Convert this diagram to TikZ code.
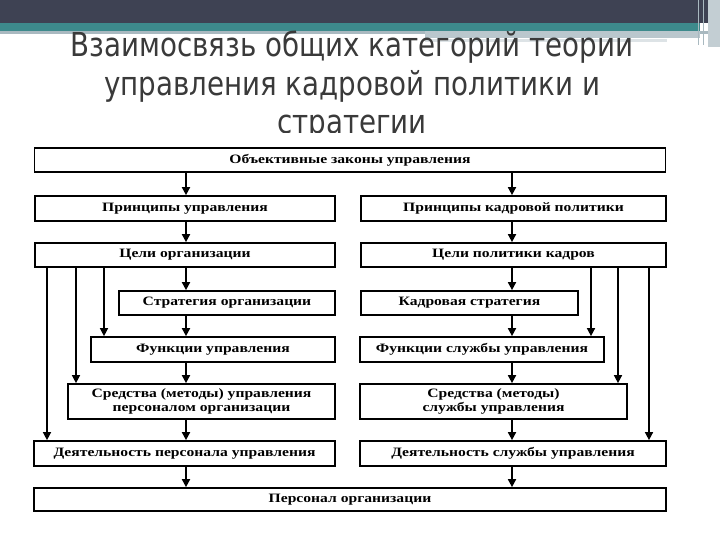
\documentclass[tikz,border=0pt]{standalone}
\usepackage{fontspec}
\usepackage{tikz}
\usetikzlibrary{arrows.meta}
\newfontfamily\titlefont[FakeStretch=0.84]{DejaVu Sans}
\newfontfamily\boxfont[FakeStretch=1.22]{Liberation Serif}
\definecolor{band}{HTML}{3E4253}
\definecolor{teal}{HTML}{3D8A8C}
\definecolor{haze}{HTML}{A9B9C0}
\definecolor{ink}{HTML}{3A3A3A}
\tikzset{
	box/.style={draw,line width=1.7pt,inner sep=0pt,align=center,font=\boxfont\bfseries\fontsize{12.8}{13.5}\selectfont},
	arr/.style={line width=1.7pt,-{Triangle[length=8pt,width=8pt]}},
	side/.style={line width=1.5pt,-{Triangle[length=8pt,width=8pt]}}
}
\begin{document}
\begin{tikzpicture}[x=1pt,y=-1pt]
	\useasboundingbox (0,0) rectangle (720,540);
	% slide header
	\fill[band] (0,0) rectangle (720,23);
	\fill[teal] (0,23) rectangle (700,31);
	\fill[haze] (0,31) rectangle (720,34);
	\fill[haze!80] (425,31) rectangle (700,38);
	\fill[haze!40] (425,39) rectangle (667,42);
	\fill[haze!70] (708,0) rectangle (720,47);
	\draw[haze,line width=1pt] (698,0) -- (698,45) (703,0) -- (703,45);
	% title
	\node[font=\titlefont\fontsize{33}{38.5}\selectfont,text=ink,align=center,anchor=north,inner sep=0pt] (title) at (352,31)
		{Взаимосвязь общих категорий теории\\управления кадровой политики и\\стратегии};
	\fill[white] (25,133) rectangle (690,540);
	% boxes
	\node[box,minimum width=631,minimum height=24] (zak) at (350,160) {Объективные законы управления};
	\node[box,minimum width=300,minimum height=25] (pu) at (185,208.5) {Принципы управления};
	\node[box,minimum width=305,minimum height=25] (pk) at (513.5,208.5) {Принципы кадровой политики};
	\node[box,minimum width=300,minimum height=24] (co) at (185,255) {Цели организации};
	\node[box,minimum width=305,minimum height=24] (ck) at (513.5,255) {Цели политики кадров};
	\node[box,minimum width=216,minimum height=24] (so) at (227,303) {Стратегия организации};
	\node[box,minimum width=217,minimum height=24] (ks) at (469.5,303) {Кадровая стратегия};
	\node[box,minimum width=244,minimum height=25] (fu) at (213,349.5) {Функции управления};
	\node[box,minimum width=244,minimum height=25] (fs) at (482,349.5) {Функции службы управления};
	\node[box,minimum width=267,minimum height=35] (su) at (201.5,401.5) {Средства (методы) управления\\персоналом организации};
	\node[box,minimum width=267,minimum height=35] (ss) at (493.5,401.5) {Средства (методы)\\службы управления};
	\node[box,minimum width=301,minimum height=25] (du) at (184.5,453.5) {Деятельность персонала управления};
	\node[box,minimum width=306,minimum height=25] (ds) at (513,453.5) {Деятельность службы управления};
	\node[box,minimum width=632,minimum height=23] (po) at (350,499.5) {Персонал организации};
	% main flow
	\foreach \a/\b in {zak/pu,pu/co,co/so,so/fu,fu/su,su/du,du/po}
		\draw[arr] (\a.south -| 186,0) -- (\b.north -| 186,0);
	\foreach \a/\b in {zak/pk,pk/ck,ck/ks,ks/fs,fs/ss,ss/ds,ds/po}
		\draw[arr] (\a.south -| 512,0) -- (\b.north -| 512,0);
	% side links
	\draw[side] (co.south -| 104,0) -- (fu.north -| 104,0);
	\draw[side] (co.south -| 76,0) -- (su.north -| 76,0);
	\draw[side] (co.south -| 47,0) -- (du.north -| 47,0);
	\draw[side] (ck.south -| 591,0) -- (fs.north -| 591,0);
	\draw[side] (ck.south -| 618,0) -- (ss.north -| 618,0);
	\draw[side] (ck.south -| 649,0) -- (ds.north -| 649,0);
\end{tikzpicture}
\end{document}
